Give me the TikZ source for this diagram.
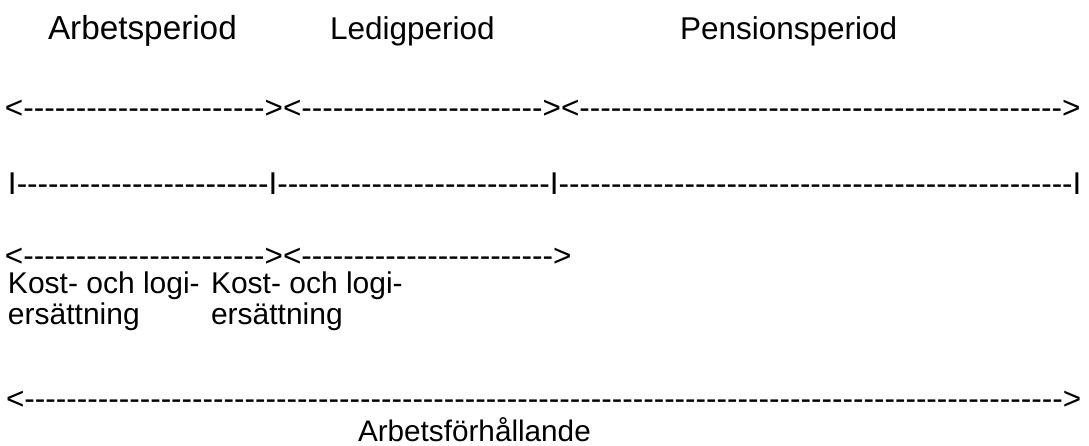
\documentclass[tikz,border=0pt]{standalone}
\usepackage{fontspec}
\setmainfont{Liberation Sans}[Ligatures=TeXOff]
\usetikzlibrary{positioning}

% a run of n hyphens
\newcommand{\dsh}[1]{\foreach \i in {1,...,#1}{-}}

\begin{document}
\begin{tikzpicture}[x=1pt,y=-1pt,
    every node/.style={inner sep=0pt,outer sep=0pt,anchor=base west,
      font=\fontsize{31.5}{31}\selectfont}]
  \tikzstyle{textblock}=[align=left,anchor=north west,font=\fontsize{30}{31}\selectfont]
  \useasboundingbox[fill=white] (0,0) rectangle (1089,446);

  % period names
  \node[font=\fontsize{33.3}{33}\selectfont] (arb) at (48,40) {Arbetsperiod};
  \node (led) at (330,40) {Ledigperiod};
  \node (pen) at (680,40) {Pensionsperiod};

  % period arrows and time line
  \node (perpil) at (5,119) {<\dsh{23}><\dsh{23}><\dsh{46}>};
  \node (linje)  at (8,195) {I\dsh{24}I\dsh{26}I\dsh{49}I};

  % board and lodging
  \node (kostpil) at (5,266) {<\dsh{23}><\dsh{24}>};
  \node[textblock] (kost1) at (8,272)   {Kost- och logi-\\ersättning};
  \node[textblock] (kost2) at (211,272) {Kost- och logi-\\ersättning};

  % employment
  \node (helpil) at (6,409) {<\dsh{99}>};
  \node[font=\fontsize{29.7}{30}\selectfont] (forh) at (358,441) {Arbetsförhållande};
\end{tikzpicture}
\end{document}
